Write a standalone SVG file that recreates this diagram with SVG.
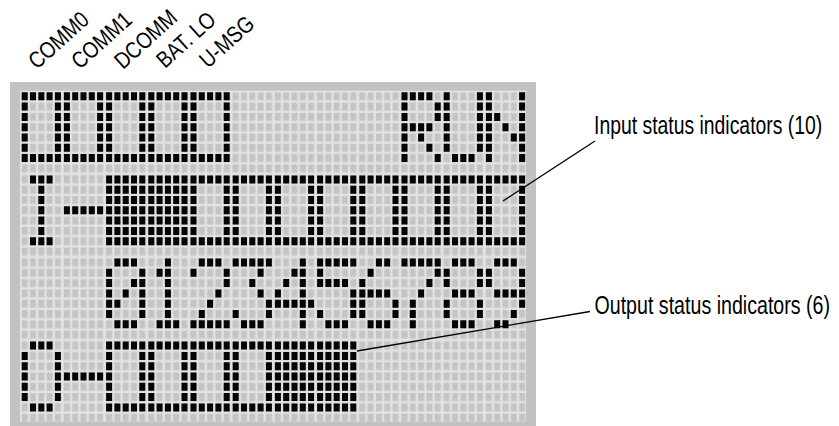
<svg xmlns="http://www.w3.org/2000/svg" width="839" height="426" viewBox="0 0 839 426">
<style>
.lbl{font-family:"Liberation Sans",Arial,sans-serif;font-size:25px;fill:#000}
.top{font-family:"Liberation Sans",Arial,sans-serif;font-size:23px;fill:#000}
.on{fill:#050505}
.lead{stroke:#000;stroke-width:1.3;fill:none}
</style>
<defs>
<pattern id="pd" width="8.3" height="10.3" patternUnits="userSpaceOnUse"><rect width="6" height="8" fill="#c4c4c4"/></pattern>
<pattern id="pc" x="21.7" y="92.3" width="42.2" height="83.1" patternUnits="userSpaceOnUse"><rect width="41.5" height="82.4" fill="url(#pd)"/></pattern>
<path id="g-box" class="on" d="M0 0h6v8h-6zM8.3 0h6v8h-6zM16.6 0h6v8h-6zM24.9 0h6v8h-6zM33.2 0h6v8h-6zM0 10.3h6v8h-6zM33.2 10.3h6v8h-6zM0 20.6h6v8h-6zM33.2 20.6h6v8h-6zM0 30.9h6v8h-6zM33.2 30.9h6v8h-6zM0 41.2h6v8h-6zM33.2 41.2h6v8h-6zM0 51.5h6v8h-6zM33.2 51.5h6v8h-6zM0 61.8h6v8h-6zM8.3 61.8h6v8h-6zM16.6 61.8h6v8h-6zM24.9 61.8h6v8h-6zM33.2 61.8h6v8h-6z"/>
<g id="g-full"><use href="#g-box"/><path class="on" d="M8.3 10.3h6v8h-6zM16.6 10.3h6v8h-6zM24.9 10.3h6v8h-6zM8.3 20.6h6v8h-6zM16.6 20.6h6v8h-6zM24.9 20.6h6v8h-6zM8.3 30.9h6v8h-6zM16.6 30.9h6v8h-6zM24.9 30.9h6v8h-6zM8.3 41.2h6v8h-6zM16.6 41.2h6v8h-6zM24.9 41.2h6v8h-6zM8.3 51.5h6v8h-6zM16.6 51.5h6v8h-6zM24.9 51.5h6v8h-6z"/></g>
<path id="g-R" class="on" d="M0 0h6v8h-6zM8.3 0h6v8h-6zM16.6 0h6v8h-6zM24.9 0h6v8h-6zM0 10.3h6v8h-6zM33.2 10.3h6v8h-6zM0 20.6h6v8h-6zM33.2 20.6h6v8h-6zM0 30.9h6v8h-6zM8.3 30.9h6v8h-6zM16.6 30.9h6v8h-6zM24.9 30.9h6v8h-6zM0 41.2h6v8h-6zM16.6 41.2h6v8h-6zM0 51.5h6v8h-6zM24.9 51.5h6v8h-6zM0 61.8h6v8h-6zM33.2 61.8h6v8h-6z"/>
<path id="g-U" class="on" d="M0 0h6v8h-6zM33.2 0h6v8h-6zM0 10.3h6v8h-6zM33.2 10.3h6v8h-6zM0 20.6h6v8h-6zM33.2 20.6h6v8h-6zM0 30.9h6v8h-6zM33.2 30.9h6v8h-6zM0 41.2h6v8h-6zM33.2 41.2h6v8h-6zM0 51.5h6v8h-6zM33.2 51.5h6v8h-6zM8.3 61.8h6v8h-6zM16.6 61.8h6v8h-6zM24.9 61.8h6v8h-6z"/>
<path id="g-N" class="on" d="M0 0h6v8h-6zM33.2 0h6v8h-6zM0 10.3h6v8h-6zM33.2 10.3h6v8h-6zM0 20.6h6v8h-6zM8.3 20.6h6v8h-6zM33.2 20.6h6v8h-6zM0 30.9h6v8h-6zM16.6 30.9h6v8h-6zM33.2 30.9h6v8h-6zM0 41.2h6v8h-6zM24.9 41.2h6v8h-6zM33.2 41.2h6v8h-6zM0 51.5h6v8h-6zM33.2 51.5h6v8h-6zM0 61.8h6v8h-6zM33.2 61.8h6v8h-6z"/>
<path id="g-I" class="on" d="M8.3 0h6v8h-6zM16.6 0h6v8h-6zM24.9 0h6v8h-6zM16.6 10.3h6v8h-6zM16.6 20.6h6v8h-6zM16.6 30.9h6v8h-6zM16.6 41.2h6v8h-6zM16.6 51.5h6v8h-6zM8.3 61.8h6v8h-6zM16.6 61.8h6v8h-6zM24.9 61.8h6v8h-6z"/>
<path id="g-dash" class="on" d="M0 30.9h6v8h-6zM8.3 30.9h6v8h-6zM16.6 30.9h6v8h-6zM24.9 30.9h6v8h-6zM33.2 30.9h6v8h-6z"/>
<path id="g-O" class="on" d="M8.3 0h6v8h-6zM16.6 0h6v8h-6zM24.9 0h6v8h-6zM0 10.3h6v8h-6zM33.2 10.3h6v8h-6zM0 20.6h6v8h-6zM33.2 20.6h6v8h-6zM0 30.9h6v8h-6zM33.2 30.9h6v8h-6zM0 41.2h6v8h-6zM33.2 41.2h6v8h-6zM0 51.5h6v8h-6zM33.2 51.5h6v8h-6zM8.3 61.8h6v8h-6zM16.6 61.8h6v8h-6zM24.9 61.8h6v8h-6z"/>
<path id="g-0" class="on" d="M8.3 0h6v8h-6zM16.6 0h6v8h-6zM24.9 0h6v8h-6zM0 10.3h6v8h-6zM33.2 10.3h6v8h-6zM0 20.6h6v8h-6zM24.9 20.6h6v8h-6zM33.2 20.6h6v8h-6zM0 30.9h6v8h-6zM16.6 30.9h6v8h-6zM33.2 30.9h6v8h-6zM0 41.2h6v8h-6zM8.3 41.2h6v8h-6zM33.2 41.2h6v8h-6zM0 51.5h6v8h-6zM33.2 51.5h6v8h-6zM8.3 61.8h6v8h-6zM16.6 61.8h6v8h-6zM24.9 61.8h6v8h-6z"/>
<path id="g-1" class="on" d="M16.6 0h6v8h-6zM8.3 10.3h6v8h-6zM16.6 10.3h6v8h-6zM16.6 20.6h6v8h-6zM16.6 30.9h6v8h-6zM16.6 41.2h6v8h-6zM16.6 51.5h6v8h-6zM8.3 61.8h6v8h-6zM16.6 61.8h6v8h-6zM24.9 61.8h6v8h-6z"/>
<path id="g-2" class="on" d="M8.3 0h6v8h-6zM16.6 0h6v8h-6zM24.9 0h6v8h-6zM0 10.3h6v8h-6zM33.2 10.3h6v8h-6zM33.2 20.6h6v8h-6zM24.9 30.9h6v8h-6zM16.6 41.2h6v8h-6zM8.3 51.5h6v8h-6zM0 61.8h6v8h-6zM8.3 61.8h6v8h-6zM16.6 61.8h6v8h-6zM24.9 61.8h6v8h-6zM33.2 61.8h6v8h-6z"/>
<path id="g-3" class="on" d="M0 0h6v8h-6zM8.3 0h6v8h-6zM16.6 0h6v8h-6zM24.9 0h6v8h-6zM33.2 0h6v8h-6zM24.9 10.3h6v8h-6zM16.6 20.6h6v8h-6zM24.9 30.9h6v8h-6zM33.2 41.2h6v8h-6zM0 51.5h6v8h-6zM33.2 51.5h6v8h-6zM8.3 61.8h6v8h-6zM16.6 61.8h6v8h-6zM24.9 61.8h6v8h-6z"/>
<path id="g-4" class="on" d="M24.9 0h6v8h-6zM16.6 10.3h6v8h-6zM24.9 10.3h6v8h-6zM8.3 20.6h6v8h-6zM24.9 20.6h6v8h-6zM0 30.9h6v8h-6zM24.9 30.9h6v8h-6zM0 41.2h6v8h-6zM8.3 41.2h6v8h-6zM16.6 41.2h6v8h-6zM24.9 41.2h6v8h-6zM33.2 41.2h6v8h-6zM24.9 51.5h6v8h-6zM24.9 61.8h6v8h-6z"/>
<path id="g-5" class="on" d="M0 0h6v8h-6zM8.3 0h6v8h-6zM16.6 0h6v8h-6zM24.9 0h6v8h-6zM33.2 0h6v8h-6zM0 10.3h6v8h-6zM0 20.6h6v8h-6zM8.3 20.6h6v8h-6zM16.6 20.6h6v8h-6zM24.9 20.6h6v8h-6zM33.2 30.9h6v8h-6zM33.2 41.2h6v8h-6zM0 51.5h6v8h-6zM33.2 51.5h6v8h-6zM8.3 61.8h6v8h-6zM16.6 61.8h6v8h-6zM24.9 61.8h6v8h-6z"/>
<path id="g-6" class="on" d="M16.6 0h6v8h-6zM24.9 0h6v8h-6zM8.3 10.3h6v8h-6zM0 20.6h6v8h-6zM0 30.9h6v8h-6zM8.3 30.9h6v8h-6zM16.6 30.9h6v8h-6zM24.9 30.9h6v8h-6zM0 41.2h6v8h-6zM33.2 41.2h6v8h-6zM0 51.5h6v8h-6zM33.2 51.5h6v8h-6zM8.3 61.8h6v8h-6zM16.6 61.8h6v8h-6zM24.9 61.8h6v8h-6z"/>
<path id="g-7" class="on" d="M0 0h6v8h-6zM8.3 0h6v8h-6zM16.6 0h6v8h-6zM24.9 0h6v8h-6zM33.2 0h6v8h-6zM33.2 10.3h6v8h-6zM24.9 20.6h6v8h-6zM16.6 30.9h6v8h-6zM8.3 41.2h6v8h-6zM8.3 51.5h6v8h-6zM8.3 61.8h6v8h-6z"/>
<path id="g-8" class="on" d="M8.3 0h6v8h-6zM16.6 0h6v8h-6zM24.9 0h6v8h-6zM0 10.3h6v8h-6zM33.2 10.3h6v8h-6zM0 20.6h6v8h-6zM33.2 20.6h6v8h-6zM8.3 30.9h6v8h-6zM16.6 30.9h6v8h-6zM24.9 30.9h6v8h-6zM0 41.2h6v8h-6zM33.2 41.2h6v8h-6zM0 51.5h6v8h-6zM33.2 51.5h6v8h-6zM8.3 61.8h6v8h-6zM16.6 61.8h6v8h-6zM24.9 61.8h6v8h-6z"/>
<path id="g-9" class="on" d="M8.3 0h6v8h-6zM16.6 0h6v8h-6zM24.9 0h6v8h-6zM0 10.3h6v8h-6zM33.2 10.3h6v8h-6zM0 20.6h6v8h-6zM33.2 20.6h6v8h-6zM8.3 30.9h6v8h-6zM16.6 30.9h6v8h-6zM24.9 30.9h6v8h-6zM33.2 30.9h6v8h-6zM33.2 41.2h6v8h-6zM24.9 51.5h6v8h-6zM8.3 61.8h6v8h-6zM16.6 61.8h6v8h-6z"/>
</defs>
<rect width="839" height="426" fill="#fff"/>
<g id="lcd">
<rect x="10" y="82" width="526" height="350" fill="#c2c2c2"/>
<rect x="20" y="90.7" width="506" height="331" fill="#e3e3e3"/>
<rect x="21.7" y="92.3" width="505.7" height="331.7" fill="url(#pc)"/>
</g>
<g id="row0">
<use href="#g-box" x="21.7" y="92.3"/><use href="#g-box" x="63.9" y="92.3"/><use href="#g-box" x="106.1" y="92.3"/><use href="#g-box" x="148.3" y="92.3"/><use href="#g-box" x="190.5" y="92.3"/>
<use href="#g-R" x="401.5" y="92.3"/><use href="#g-U" x="443.7" y="92.3"/><use href="#g-N" x="485.9" y="92.3"/>
</g>
<g id="row1">
<use href="#g-I" x="21.7" y="175.4"/><use href="#g-dash" x="63.9" y="175.4"/>
<use href="#g-full" x="106.1" y="175.4"/><use href="#g-full" x="148.3" y="175.4"/>
<use href="#g-box" x="190.5" y="175.4"/><use href="#g-box" x="232.7" y="175.4"/><use href="#g-box" x="274.9" y="175.4"/><use href="#g-box" x="317.1" y="175.4"/><use href="#g-box" x="359.3" y="175.4"/><use href="#g-box" x="401.5" y="175.4"/><use href="#g-box" x="443.7" y="175.4"/><use href="#g-box" x="485.9" y="175.4"/>
</g>
<g id="row2">
<use href="#g-0" x="106.1" y="258.5"/><use href="#g-1" x="148.3" y="258.5"/><use href="#g-2" x="190.5" y="258.5"/><use href="#g-3" x="232.7" y="258.5"/><use href="#g-4" x="274.9" y="258.5"/><use href="#g-5" x="317.1" y="258.5"/><use href="#g-6" x="359.3" y="258.5"/><use href="#g-7" x="401.5" y="258.5"/><use href="#g-8" x="443.7" y="258.5"/><use href="#g-9" x="485.9" y="258.5"/>
</g>
<g id="row3">
<use href="#g-O" x="21.7" y="341.6"/><use href="#g-dash" x="63.9" y="341.6"/>
<use href="#g-box" x="106.1" y="341.6"/><use href="#g-box" x="148.3" y="341.6"/><use href="#g-box" x="190.5" y="341.6"/><use href="#g-box" x="232.7" y="341.6"/>
<use href="#g-full" x="274.9" y="341.6"/><use href="#g-full" x="317.1" y="341.6"/>
</g>
<g id="top-labels">
<text class="top" transform="translate(37,70) rotate(-42) scale(0.84,1)">COMM0</text>
<text class="top" transform="translate(80,70) rotate(-42) scale(0.84,1)">COMM1</text>
<text class="top" transform="translate(123,70) rotate(-42) scale(0.84,1)">DCOMM</text>
<text class="top" transform="translate(165,69) rotate(-42) scale(0.84,1)">BAT. LO</text>
<text class="top" transform="translate(208,69) rotate(-42) scale(0.84,1)">U-MSG</text>
</g>
<g id="connectors">
<line class="lead" x1="595" y1="141" x2="503" y2="201"/>
<line class="lead" x1="590" y1="311.5" x2="357" y2="351"/>
</g>
<g id="callouts">
<text class="lbl" transform="translate(594,134) scale(0.775,1)">Input status indicators (10)</text>
<text class="lbl" transform="translate(594.5,313.5) scale(0.785,1)">Output status indicators (6)</text>
</g>
</svg>
